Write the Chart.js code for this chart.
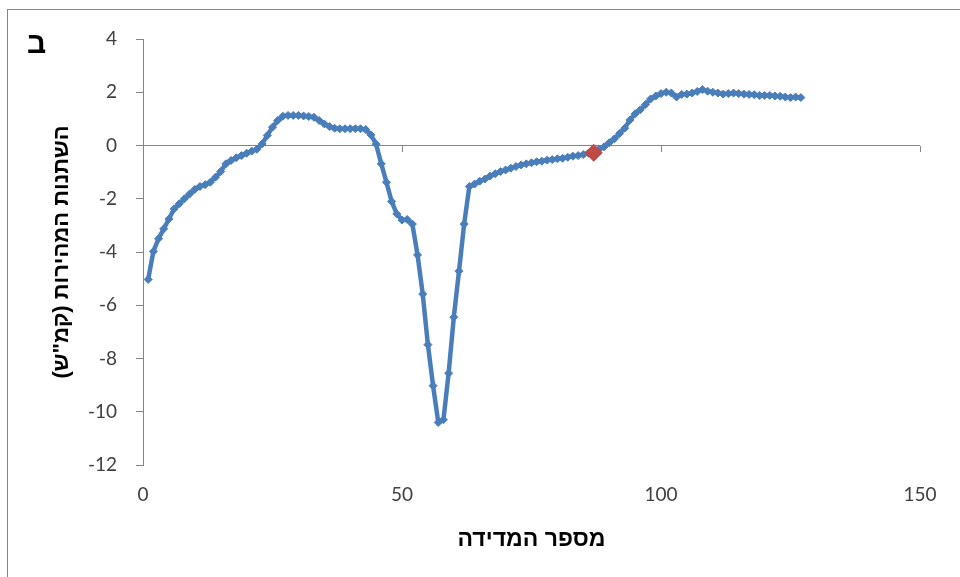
<!DOCTYPE html>
<html>
<head>
<meta charset="utf-8">
<script src="https://cdn.jsdelivr.net/npm/chart.js@4/dist/chart.umd.min.js"></script>
<style>
  html, body { margin: 0; padding: 0; background: #ffffff; }
  #wrap { position: relative; width: 960px; height: 577px; overflow: hidden; }
  #frame { position: absolute; left: 7px; top: 9px; width: 1000px; height: 620px;
           border: 1px solid #868686; box-sizing: border-box; }
  #panel { position: absolute; left: 27px; top: 26px; font: bold 30px "Liberation Sans", sans-serif; color: #000; }
  #chart { position: absolute; left: 0; top: 0; }
</style>
</head>
<body>
<div id="wrap">
  <div id="frame"></div>
  <canvas id="chart" width="960" height="577"></canvas>
  <div id="panel">ב</div>
</div>
<script>
// Change in speed (km/h) for each measurement, in measurement order starting at 1
const speedChange = [
  -5.03, -3.98, -3.50, -3.13, -2.76, -2.38, -2.19, -2.00, -1.82, -1.65,
  -1.54, -1.47, -1.38, -1.19, -0.98, -0.69, -0.56, -0.46, -0.38, -0.29,
  -0.21, -0.14,  0.06,  0.38,  0.69,  0.94,  1.10,  1.13,  1.13,  1.13,
   1.11,  1.09,  1.06,  0.94,  0.81,  0.71,  0.65,  0.63,  0.63,  0.63,
   0.63,  0.63,  0.60,  0.40,  0.05, -0.69, -1.38, -2.10, -2.57, -2.80,
  -2.78, -2.95, -4.11, -5.58, -7.48, -9.02, -10.40, -10.30, -8.55, -6.45,
  -4.72, -2.95, -1.54, -1.45, -1.34, -1.26, -1.15, -1.06, -0.98, -0.92,
  -0.85, -0.79, -0.73, -0.69, -0.65, -0.61, -0.59, -0.55, -0.53, -0.50,
  -0.48, -0.44, -0.40, -0.38, -0.34, -0.29, -0.27, -0.15, -0.05,  0.10,
   0.25,  0.45,  0.65,  0.96,  1.19,  1.34,  1.54,  1.75,  1.86,  1.95,
   2.00,  1.97,  1.82,  1.92,  1.93,  1.97,  2.03,  2.10,  2.04,  2.00,
   1.97,  1.93,  1.95,  1.97,  1.95,  1.93,  1.92,  1.91,  1.88,  1.88,
   1.88,  1.86,  1.85,  1.82,  1.80,  1.82,  1.80
];
const firstMeasurement = 1;
const highlightedMeasurement = 87;

const xTicks = [0, 50, 100, 150];
const yTicks = [-12, -10, -8, -6, -4, -2, 0, 2, 4];

const xTitle = 'מספר המדידה';
const yTitle = '\u200F' + 'השתנות המהירות (קמ"ש)' + '\u200F';

const speedPoints = speedChange.map((v, i) => ({ x: firstMeasurement + i, y: v }));
const highlightPoint = [{
  x: highlightedMeasurement,
  y: speedChange[highlightedMeasurement - firstMeasurement]
}];

const axisGrey = '#868686';
const tickFont = { family: 'Lato', size: 19 };

// short marks hanging below the zero line at each x tick
const zeroLineTicks = {
  id: 'zeroLineTicks',
  beforeDatasetsDraw(chart) {
    const { ctx, scales: { x, y } } = chart;
    const y0 = Math.round(y.getPixelForValue(0));
    ctx.save();
    ctx.strokeStyle = axisGrey;
    ctx.lineWidth = 1;
    xTicks.forEach(v => {
      if (v === 0) return;
      const px = Math.round(x.getPixelForValue(v)) + 0.5;
      ctx.beginPath();
      ctx.moveTo(px, y0);
      ctx.lineTo(px, y0 + 6);
      ctx.stroke();
    });
    ctx.restore();
  }
};

new Chart(document.getElementById('chart'), {
  type: 'line',
  data: {
    datasets: [
      {
        data: highlightPoint,
        showLine: false,
        pointStyle: 'rectRot',
        pointRadius: 8.5,
        backgroundColor: '#be4b48',
        borderColor: '#b5443f',
        borderWidth: 1,
        order: 0
      },
      {
        data: speedPoints,
        borderColor: '#4a7ebb',
        backgroundColor: '#4a7ebb',
        borderWidth: 4.5,
        tension: 0,
        pointStyle: 'rectRot',
        pointRadius: 4,
        pointBorderWidth: 1,
        order: 1
      }
    ]
  },
  options: {
    responsive: false,
    animation: false,
    layout: { padding: { left: 0, right: 40, top: 39, bottom: 24 } },
    plugins: { legend: { display: false }, tooltip: { enabled: false } },
    scales: {
      x: {
        type: 'linear',
        min: 0,
        max: 150,
        afterBuildTicks: s => { s.ticks = xTicks.map(v => ({ value: v })); },
        ticks: { color: '#404040', font: tickFont, padding: 18, maxRotation: 0 },
        grid: { display: false, drawTicks: false },
        border: { display: false },
        title: { display: true, text: xTitle, color: '#000',
                 font: { family: 'Liberation Sans', size: 23, weight: 'bold' },
                 padding: { top: 12, bottom: 0 } },
        afterFit: s => { s.height = 88; }
      },
      y: {
        min: -12,
        max: 4,
        afterBuildTicks: s => { s.ticks = yTicks.map(v => ({ value: v })); },
        ticks: { color: '#404040', font: tickFont, padding: 19 },
        grid: {
          color: c => (c.tick && c.tick.value === 0 ? axisGrey : 'rgba(0,0,0,0)'),
          tickColor: axisGrey,
          tickLength: 7,
          lineWidth: 1
        },
        border: { display: true, color: axisGrey, width: 1 },
        title: { display: true, text: yTitle, color: '#000',
                 font: { family: 'Liberation Sans', size: 22, weight: 'bold' },
                 padding: { top: 49, bottom: 0 } },
        afterFit: s => { s.width = 143; }
      }
    }
  },
  plugins: [zeroLineTicks]
});
</script>
</body>
</html>
